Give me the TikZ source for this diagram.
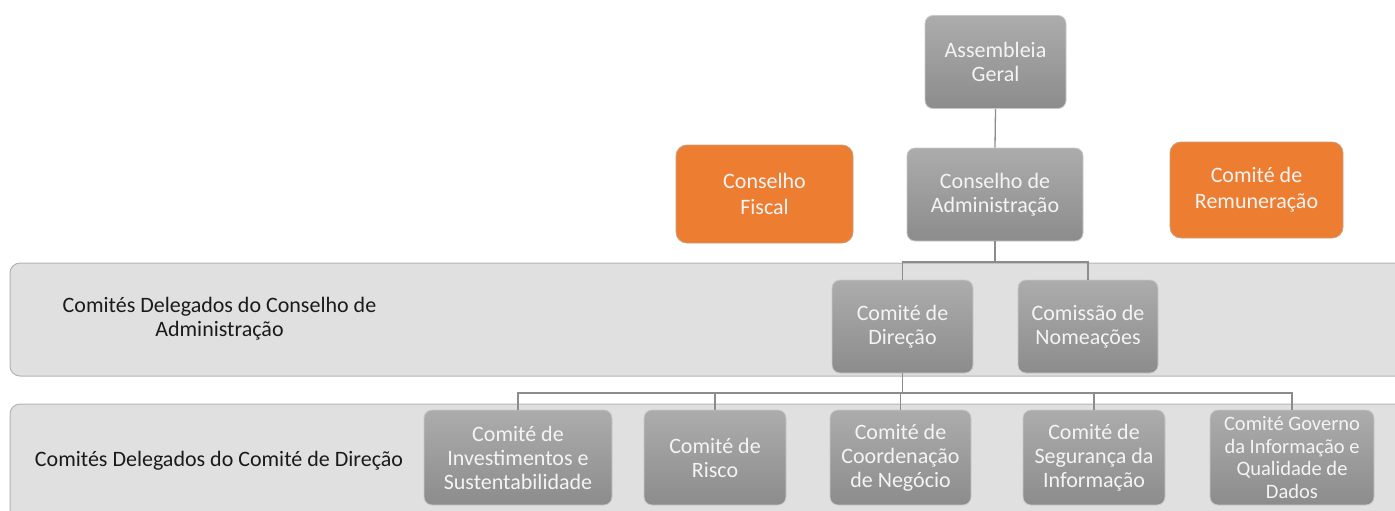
\documentclass[tikz,border=0pt]{standalone}
\usepackage{fontspec}
\setmainfont{Carlito}
\definecolor{bandfill}{HTML}{E0E0E0}
\definecolor{bandline}{HTML}{B4B4B4}
\definecolor{gtop}{HTML}{ACACAC}
\definecolor{gbot}{HTML}{8C8C8C}
\definecolor{gline}{HTML}{C8C8C8}
\definecolor{orangeC}{HTML}{ED7D31}
\definecolor{oline}{HTML}{C8A080}
\definecolor{boxtxt}{HTML}{F4F4F4}
\definecolor{connC}{HTML}{8C8C8C}
\definecolor{labtxt}{HTML}{1A1A1A}
\begin{document}
\begin{tikzpicture}[x=1pt,y=-1pt,
  band/.style={draw=bandline, fill=bandfill, rounded corners=10pt, line width=1pt},
  boxbase/.style={align=center, inner sep=0pt, text=boxtxt, font=\fontsize{22}{24}\selectfont},
  gbox/.style={boxbase, rounded corners=8pt, draw=gline, line width=0.8pt, top color=gtop, bottom color=gbot},
  obox/.style={boxbase, rounded corners=11pt, draw=oline, line width=0.8pt, fill=orangeC, font=\fontsize{22}{26}\selectfont},
  conn/.style={draw=connC, line width=1.3pt},
  lab/.style={align=center, inner sep=0pt, text=labtxt, font=\fontsize{22}{24}\selectfont}]
\useasboundingbox (0,0) rectangle (1395,511);
\clip (0,0) rectangle (1395,511);
% bands
\path[band] (10,263) rectangle (1430,376);
\path[band] (10,404) rectangle (1430,560);
\node[lab] (l1) at (219.5,319) {Comités Delegados do Conselho de\\Administração};
\node[lab] (l2) at (219,461) {Comités Delegados do Comité de Direção};
% boxes
\node[gbox, minimum width=141pt, minimum height=93pt] (ag) at (995.5,62) {Assembleia\\Geral};
\node[gbox, minimum width=176pt, minimum height=93pt] (ca) at (995,194.5) {Conselho de\\Administração};
\node[obox, minimum width=177pt, minimum height=98pt] (cf) at (764.5,194) {Conselho\\Fiscal};
\node[obox, minimum width=173pt, minimum height=96pt] (cr) at (1256.5,190) {Comité de\\Remuneração};
\node[gbox, minimum width=141pt, minimum height=93pt] (cd) at (902.5,326.5) {Comité de\\Direção};
\node[gbox, minimum width=140pt, minimum height=93pt] (cn) at (1088,326.5) {Comissão de\\Nomeações};
\node[gbox, minimum width=188pt, minimum height=95pt] (b1) at (518,457.5) {Comité de\\Investimentos e\\Sustentabilidade};
\node[gbox, minimum width=142pt, minimum height=95pt] (b2) at (715,457.5) {Comité de\\Risco};
\node[gbox, minimum width=141pt, minimum height=95pt] (b3) at (900.5,457.5) {Comité de\\Coordenação\\de Negócio};
\node[gbox, minimum width=142pt, minimum height=95pt] (b4) at (1094,457.5) {Comité de\\Segurança da\\Informação};
\node[gbox, minimum width=164pt, minimum height=95pt, font=\fontsize{20.5}{22.5}\selectfont] (b5) at (1292,457.5) {Comité Governo\\da Informação e\\Qualidade de\\Dados};
% connectors
\coordinate (bus1) at (995,262);
\coordinate (bus2) at (903,393);
\draw[conn] (ag.south) -- (ca.north);
\draw[conn] (ca.south) -- (ca.south |- bus1);
\draw[conn] (cd.north) |- (cn.north |- bus1) -- (cn.north);
\draw[conn] (cd.south) -- (cd.south |- bus2);
\draw[conn] (b1.north) |- (b5.north |- bus2) -- (b5.north);
\draw[conn] (b2.north) -- (b2.north |- bus2);
\draw[conn] (b3.north) -- (b3.north |- bus2);
\draw[conn] (b4.north) -- (b4.north |- bus2);
\end{tikzpicture}
\end{document}
